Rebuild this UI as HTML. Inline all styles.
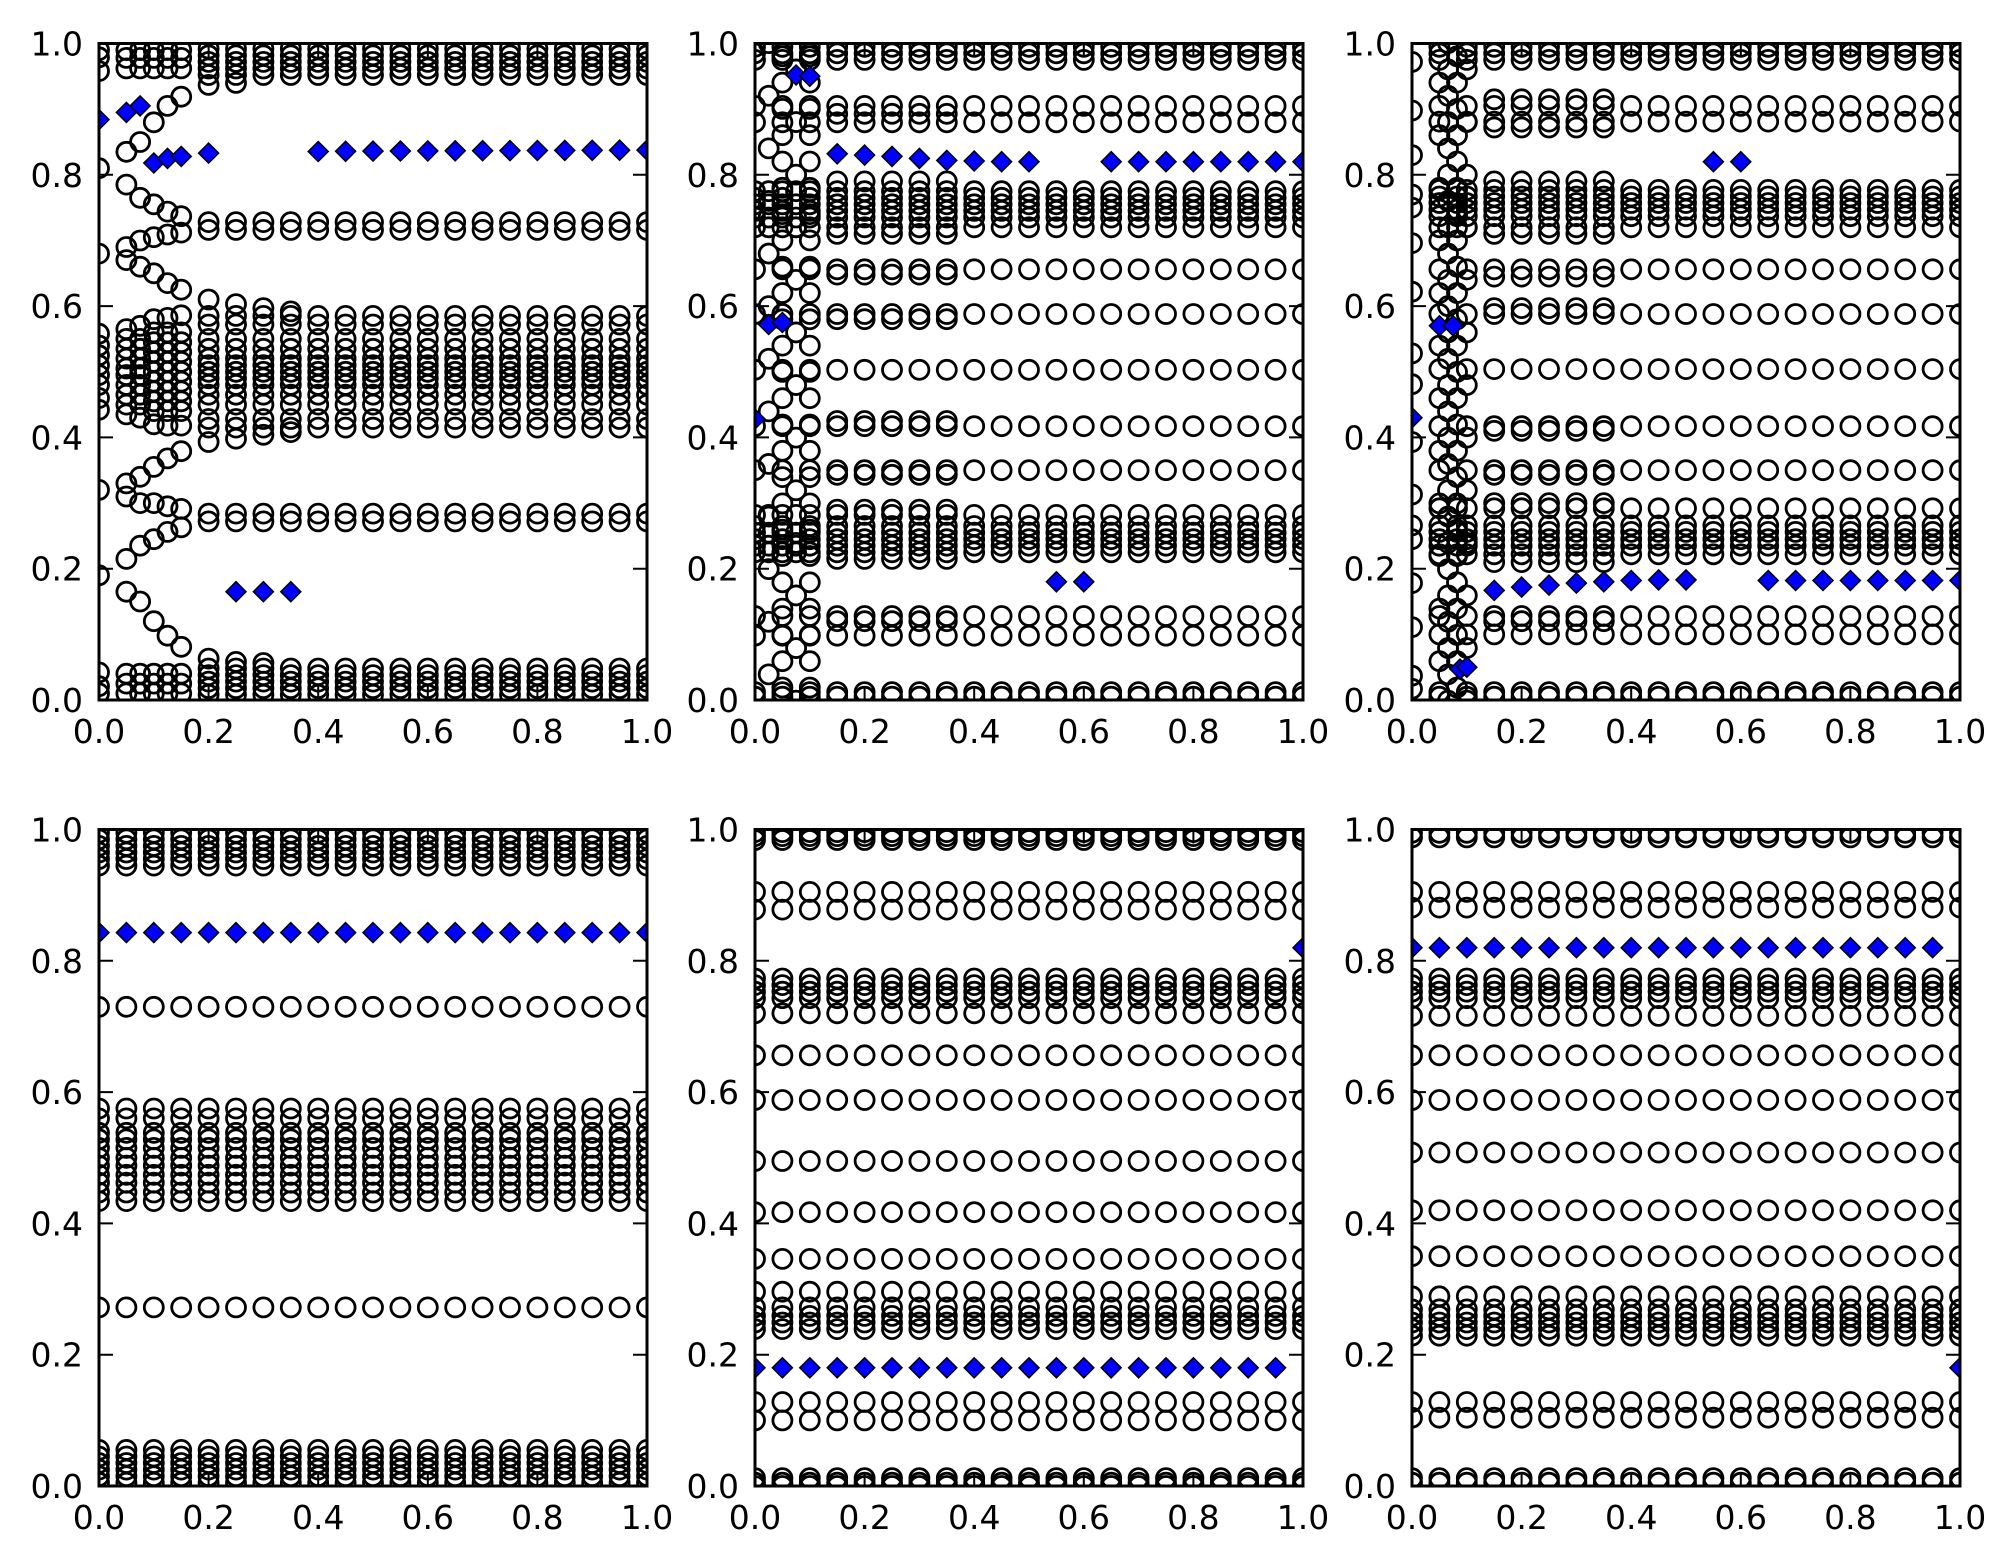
<!DOCTYPE html>
<html><head><meta charset="utf-8">
<style>
html,body{margin:0;padding:0;background:#fff;}
svg{display:block;}
circle{fill:none;stroke:#000;stroke-width:2.8;}
.dm{fill:#0000ff;stroke:#000;stroke-width:1.5;}
text{font-family:"DejaVu Sans","Liberation Sans",sans-serif;font-size:33px;fill:#000;}
.ya{text-anchor:end;}
.xa{text-anchor:middle;}
</style></head>
<body>
<svg width="2011" height="1565" viewBox="0 0 2011 1565" xmlns="http://www.w3.org/2000/svg" xmlns:xlink="http://www.w3.org/1999/xlink">
<rect width="2011" height="1565" fill="#fff"/>
<defs>
<clipPath id="cp"><rect x="0" y="43.5" width="548" height="656.5"/></clipPath>
<circle id="c" r="9.5"/>
<g id="r21"><use href="#c" x="0"/><use href="#c" x="27.4"/><use href="#c" x="54.8"/><use href="#c" x="82.2"/><use href="#c" x="109.6"/><use href="#c" x="137"/><use href="#c" x="164.4"/><use href="#c" x="191.8"/><use href="#c" x="219.2"/><use href="#c" x="246.6"/><use href="#c" x="274"/><use href="#c" x="301.4"/><use href="#c" x="328.8"/><use href="#c" x="356.2"/><use href="#c" x="383.6"/><use href="#c" x="411"/><use href="#c" x="438.4"/><use href="#c" x="465.8"/><use href="#c" x="493.2"/><use href="#c" x="520.6"/><use href="#c" x="548"/></g>
<g id="r20"><use href="#c" x="27.4"/><use href="#c" x="54.8"/><use href="#c" x="82.2"/><use href="#c" x="109.6"/><use href="#c" x="137"/><use href="#c" x="164.4"/><use href="#c" x="191.8"/><use href="#c" x="219.2"/><use href="#c" x="246.6"/><use href="#c" x="274"/><use href="#c" x="301.4"/><use href="#c" x="328.8"/><use href="#c" x="356.2"/><use href="#c" x="383.6"/><use href="#c" x="411"/><use href="#c" x="438.4"/><use href="#c" x="465.8"/><use href="#c" x="493.2"/><use href="#c" x="520.6"/><use href="#c" x="548"/></g>
<g id="r17"><use href="#c" x="109.6"/><use href="#c" x="137"/><use href="#c" x="164.4"/><use href="#c" x="191.8"/><use href="#c" x="219.2"/><use href="#c" x="246.6"/><use href="#c" x="274"/><use href="#c" x="301.4"/><use href="#c" x="328.8"/><use href="#c" x="356.2"/><use href="#c" x="383.6"/><use href="#c" x="411"/><use href="#c" x="438.4"/><use href="#c" x="465.8"/><use href="#c" x="493.2"/><use href="#c" x="520.6"/><use href="#c" x="548"/></g>
<g id="e5"><use href="#c" x="82.2"/><use href="#c" x="109.6"/><use href="#c" x="137"/><use href="#c" x="164.4"/><use href="#c" x="191.8"/></g>
<g id="lc"><use href="#c" x="13.7"/><use href="#c" x="41.1"/></g>
<g id="zz2"><use href="#c" y="30"/><use href="#c" y="82.6"/><use href="#c" y="135.2"/><use href="#c" y="187.8"/><use href="#c" y="240.4"/><use href="#c" y="293"/><use href="#c" y="345.6"/><use href="#c" y="398.2"/><use href="#c" y="450.8"/><use href="#c" y="503.4"/><use href="#c" y="556"/><use href="#c" y="608.6"/><use href="#c" y="661.2"/><use href="#c" y="713.8"/></g>
<polygon id="d" class="dm" points="0,-10 10,0 0,10 -10,0"/>
<g id="d20"><use href="#d" x="0"/><use href="#d" x="27.4"/><use href="#d" x="54.8"/><use href="#d" x="82.2"/><use href="#d" x="109.6"/><use href="#d" x="137"/><use href="#d" x="164.4"/><use href="#d" x="191.8"/><use href="#d" x="219.2"/><use href="#d" x="246.6"/><use href="#d" x="274"/><use href="#d" x="301.4"/><use href="#d" x="328.8"/><use href="#d" x="356.2"/><use href="#d" x="383.6"/><use href="#d" x="411"/><use href="#d" x="438.4"/><use href="#d" x="465.8"/><use href="#d" x="493.2"/><use href="#d" x="520.6"/></g>
<g id="frame">
<rect x="0" y="43.5" width="548" height="656.5" fill="none" stroke="#000" stroke-width="3"/>
<path d="M0 568.7h14M0 437.4h14M0 306.1h14M0 174.8h14M548 568.7h-14M548 437.4h-14M548 306.1h-14M548 174.8h-14M109.6 700v-14M219.2 700v-14M328.8 700v-14M438.4 700v-14M109.6 43.5v14M219.2 43.5v14M328.8 43.5v14M438.4 43.5v14" stroke="#000" stroke-width="2" fill="none"/>
</g>
</defs>

<!-- Panel 1 -->
<g transform="translate(99,0)">
<g clip-path="url(#cp)">
<use href="#r17" y="48.7"/><use href="#r17" y="55.3"/><use href="#r17" y="61.9"/><use href="#r17" y="68.5"/><use href="#r17" y="75"/>
<use href="#r17" y="222.1"/><use href="#r17" y="229.9"/>
<use href="#r17" y="315.9"/><use href="#r17" y="324.5"/><use href="#r17" y="338.9"/><use href="#r17" y="348.8"/><use href="#r17" y="358.6"/><use href="#r17" y="365.2"/><use href="#r17" y="371.8"/><use href="#r17" y="378.3"/><use href="#r17" y="384.9"/><use href="#r17" y="394.7"/><use href="#r17" y="404.6"/><use href="#r17" y="419"/><use href="#r17" y="427.6"/>
<use href="#r17" y="513.6"/><use href="#r17" y="521.4"/>
<use href="#r17" y="668.5"/><use href="#r17" y="675.1"/><use href="#r17" y="681.6"/><use href="#r17" y="688.2"/><use href="#r17" y="694.7"/>
<g transform="translate(109.6,0)"><use href="#c" y="84.9"/><use href="#c" y="299.5"/><use href="#c" y="442"/><use href="#c" y="658.6"/></g>
<g transform="translate(137,0)"><use href="#c" y="82.9"/><use href="#c" y="304.1"/><use href="#c" y="438.7"/><use href="#c" y="661.9"/></g>
<g transform="translate(164.4,0)"><use href="#c" y="308.1"/><use href="#c" y="434.8"/><use href="#c" y="663"/></g>
<g transform="translate(191.8,0)"><use href="#c" y="311.4"/><use href="#c" y="432.1"/></g>
<g><use href="#c" y="50.1"/><use href="#c" y="57.3"/><use href="#c" y="71.1"/><use href="#c" y="168.2"/><use href="#c" y="253.6"/><use href="#c" y="333.7"/><use href="#c" y="345.5"/><use href="#c" y="355.3"/><use href="#c" y="365.2"/><use href="#c" y="375"/><use href="#c" y="384.9"/><use href="#c" y="398"/><use href="#c" y="409.8"/><use href="#c" y="489.9"/><use href="#c" y="575.3"/><use href="#c" y="672.4"/><use href="#c" y="686.2"/><use href="#c" y="693.4"/></g>
<g transform="translate(27.4,0)"><use href="#c" y="50.1"/><use href="#c" y="57.9"/><use href="#c" y="68.4"/><use href="#c" y="151.8"/><use href="#c" y="184.6"/><use href="#c" y="247"/><use href="#c" y="260.1"/><use href="#c" y="329.1"/><use href="#c" y="338.9"/><use href="#c" y="348.8"/><use href="#c" y="358.6"/><use href="#c" y="368.5"/><use href="#c" y="375"/><use href="#c" y="384.9"/><use href="#c" y="394.7"/><use href="#c" y="404.6"/><use href="#c" y="414.4"/><use href="#c" y="483.4"/><use href="#c" y="496.5"/><use href="#c" y="558.9"/><use href="#c" y="591.7"/><use href="#c" y="673.7"/><use href="#c" y="683.6"/><use href="#c" y="693.4"/></g>
<g transform="translate(41.1,0)"><use href="#c" y="50.1"/><use href="#c" y="57.9"/><use href="#c" y="68.4"/><use href="#c" y="142"/><use href="#c" y="197.8"/><use href="#c" y="240.5"/><use href="#c" y="266.7"/><use href="#c" y="325.8"/><use href="#c" y="338.9"/><use href="#c" y="348.8"/><use href="#c" y="358.6"/><use href="#c" y="368.5"/><use href="#c" y="375"/><use href="#c" y="384.9"/><use href="#c" y="394.7"/><use href="#c" y="404.6"/><use href="#c" y="417.7"/><use href="#c" y="476.8"/><use href="#c" y="503.1"/><use href="#c" y="545.7"/><use href="#c" y="601.5"/><use href="#c" y="673.7"/><use href="#c" y="683.6"/><use href="#c" y="693.4"/></g>
<g transform="translate(54.8,0)"><use href="#c" y="50.1"/><use href="#c" y="57.9"/><use href="#c" y="68.4"/><use href="#c" y="122.3"/><use href="#c" y="204.3"/><use href="#c" y="237.2"/><use href="#c" y="273.3"/><use href="#c" y="319.2"/><use href="#c" y="332.4"/><use href="#c" y="342.2"/><use href="#c" y="352.1"/><use href="#c" y="361.9"/><use href="#c" y="371.8"/><use href="#c" y="381.6"/><use href="#c" y="391.4"/><use href="#c" y="401.3"/><use href="#c" y="411.1"/><use href="#c" y="424.3"/><use href="#c" y="466.9"/><use href="#c" y="503.1"/><use href="#c" y="539.2"/><use href="#c" y="621.2"/><use href="#c" y="673.7"/><use href="#c" y="683.6"/><use href="#c" y="693.4"/></g>
<g transform="translate(68.5,0)"><use href="#c" y="50.1"/><use href="#c" y="57.9"/><use href="#c" y="68.4"/><use href="#c" y="105.9"/><use href="#c" y="211.6"/><use href="#c" y="234.5"/><use href="#c" y="283.1"/><use href="#c" y="317.9"/><use href="#c" y="332.4"/><use href="#c" y="342.2"/><use href="#c" y="352.1"/><use href="#c" y="361.9"/><use href="#c" y="371.8"/><use href="#c" y="381.6"/><use href="#c" y="391.4"/><use href="#c" y="401.3"/><use href="#c" y="411.1"/><use href="#c" y="425.6"/><use href="#c" y="458.4"/><use href="#c" y="506.3"/><use href="#c" y="531.9"/><use href="#c" y="635.7"/><use href="#c" y="673.7"/><use href="#c" y="683.6"/><use href="#c" y="693.4"/></g>
<g transform="translate(82.2,0)"><use href="#c" y="50.1"/><use href="#c" y="57.9"/><use href="#c" y="68.4"/><use href="#c" y="96.7"/><use href="#c" y="216.2"/><use href="#c" y="232.6"/><use href="#c" y="289.7"/><use href="#c" y="315.3"/><use href="#c" y="332.4"/><use href="#c" y="342.2"/><use href="#c" y="352.1"/><use href="#c" y="361.9"/><use href="#c" y="371.8"/><use href="#c" y="381.6"/><use href="#c" y="391.4"/><use href="#c" y="401.3"/><use href="#c" y="411.1"/><use href="#c" y="425.6"/><use href="#c" y="451.2"/><use href="#c" y="508.9"/><use href="#c" y="527.3"/><use href="#c" y="646.8"/><use href="#c" y="673.7"/><use href="#c" y="683.6"/><use href="#c" y="693.4"/></g>
<use href="#d" x="0" y="119.6"/><use href="#d" x="27.4" y="112.4"/><use href="#d" x="41.1" y="105.9"/><use href="#d" x="54.8" y="163"/><use href="#d" x="68.5" y="158.4"/><use href="#d" x="82.2" y="156.4"/><use href="#d" x="109.6" y="153.1"/>
<use href="#d" x="219.2" y="151.5"/><use href="#d" x="246.6" y="151.3"/><use href="#d" x="274" y="151.1"/><use href="#d" x="301.4" y="151"/><use href="#d" x="328.8" y="150.9"/><use href="#d" x="356.2" y="150.8"/><use href="#d" x="383.6" y="150.7"/><use href="#d" x="411" y="150.6"/><use href="#d" x="438.4" y="150.5"/><use href="#d" x="465.8" y="150.4"/><use href="#d" x="493.2" y="150.3"/><use href="#d" x="520.6" y="150.2"/><use href="#d" x="548" y="150.1"/>
<use href="#d" x="137" y="591.7"/><use href="#d" x="164.4" y="591.7"/><use href="#d" x="191.8" y="591.7"/>
</g>
<use href="#frame"/>
<text class="ya" x="-16" y="712">0.0</text><text class="ya" x="-16" y="580.7">0.2</text><text class="ya" x="-16" y="449.4">0.4</text><text class="ya" x="-16" y="318.1">0.6</text><text class="ya" x="-16" y="186.8">0.8</text><text class="ya" x="-16" y="55.5">1.0</text>
<text class="xa" x="0" y="743">0.0</text><text class="xa" x="109.6" y="743">0.2</text><text class="xa" x="219.2" y="743">0.4</text><text class="xa" x="328.8" y="743">0.6</text><text class="xa" x="438.4" y="743">0.8</text><text class="xa" x="548" y="743">1.0</text>
</g>

<!-- Panel 2 -->
<g transform="translate(755,0)">
<g clip-path="url(#cp)">
<use href="#r21" y="46.8"/><use href="#r21" y="53.3"/><use href="#r21" y="59.9"/>
<use href="#r21" y="105.9"/><use href="#r21" y="122.3"/>
<use href="#r21" y="191.2"/><use href="#r21" y="197.8"/><use href="#r21" y="204.3"/><use href="#r21" y="210.9"/><use href="#r21" y="217.5"/><use href="#r21" y="227.3"/>
<use href="#r21" y="269.3"/><use href="#r21" y="314"/><use href="#r21" y="369.8"/><use href="#r21" y="426.2"/><use href="#r21" y="470.2"/>
<use href="#r21" y="514.9"/><use href="#r21" y="526"/><use href="#r21" y="532.6"/><use href="#r21" y="539.2"/><use href="#r21" y="545.7"/><use href="#r21" y="552.3"/>
<use href="#r21" y="616"/><use href="#r21" y="635.7"/><use href="#r21" y="692.1"/><use href="#r21" y="696.7"/>
<use href="#e5" y="113.8"/><use href="#e5" y="181.4"/><use href="#e5" y="233.9"/><use href="#e5" y="274.6"/><use href="#e5" y="319.2"/><use href="#e5" y="421"/><use href="#e5" y="474.8"/><use href="#e5" y="509.6"/><use href="#e5" y="558.9"/><use href="#e5" y="621.2"/>
<use href="#lc" y="191.2"/><use href="#lc" y="204.3"/><use href="#lc" y="217.5"/><use href="#lc" y="227.3"/><use href="#lc" y="514.9"/><use href="#lc" y="532.6"/><use href="#lc" y="545.7"/><use href="#lc" y="552.3"/>
<use href="#zz2" x="13.7" y="13.15"/><use href="#zz2" x="27.4" y="0"/><use href="#zz2" x="27.4" y="26.3"/><use href="#zz2" x="41.1" y="39.45"/><use href="#zz2" x="54.8" y="0"/><use href="#zz2" x="54.8" y="26.3"/>
<use href="#d" x="41.1" y="75"/><use href="#d" x="54.8" y="76.3"/>
<use href="#d" x="82.2" y="153.8"/><use href="#d" x="109.6" y="155.1"/><use href="#d" x="137" y="156.4"/><use href="#d" x="164.4" y="158.4"/><use href="#d" x="191.8" y="160.4"/><use href="#d" x="219.2" y="161"/><use href="#d" x="246.6" y="161.7"/><use href="#d" x="274" y="161.7"/>
<use href="#d" x="356.2" y="161.7"/><use href="#d" x="383.6" y="161.7"/><use href="#d" x="411" y="161.7"/><use href="#d" x="438.4" y="161.7"/><use href="#d" x="465.8" y="161.7"/><use href="#d" x="493.2" y="161.7"/><use href="#d" x="520.6" y="161.7"/><use href="#d" x="548" y="161.7"/>
<use href="#d" x="13.7" y="324.5"/><use href="#d" x="27.4" y="322.5"/><use href="#d" x="0" y="419"/>
<use href="#d" x="301.4" y="581.8"/><use href="#d" x="328.8" y="581.8"/>
</g>
<use href="#frame"/>
<text class="ya" x="-16" y="712">0.0</text><text class="ya" x="-16" y="580.7">0.2</text><text class="ya" x="-16" y="449.4">0.4</text><text class="ya" x="-16" y="318.1">0.6</text><text class="ya" x="-16" y="186.8">0.8</text><text class="ya" x="-16" y="55.5">1.0</text>
<text class="xa" x="0" y="743">0.0</text><text class="xa" x="109.6" y="743">0.2</text><text class="xa" x="219.2" y="743">0.4</text><text class="xa" x="328.8" y="743">0.6</text><text class="xa" x="438.4" y="743">0.8</text><text class="xa" x="548" y="743">1.0</text>
</g>

<!-- Panel 3 -->
<g transform="translate(1412,0)">
<g clip-path="url(#cp)">
<use href="#r20" y="46.8"/><use href="#r20" y="53.3"/><use href="#r20" y="59.9"/>
<use href="#r20" y="105.9"/><use href="#r20" y="121.6"/>
<use href="#r20" y="189.9"/><use href="#r20" y="196.5"/><use href="#r20" y="203"/><use href="#r20" y="209.6"/><use href="#r20" y="216.2"/><use href="#r20" y="227.3"/>
<use href="#r20" y="269.3"/><use href="#r20" y="314"/><use href="#r20" y="369.1"/><use href="#r20" y="426.2"/><use href="#r20" y="470.2"/>
<use href="#r20" y="508.3"/><use href="#r20" y="525.4"/><use href="#r20" y="531.9"/><use href="#r20" y="539.2"/><use href="#r20" y="545.7"/><use href="#r20" y="554.3"/>
<use href="#r20" y="616"/><use href="#r20" y="634.4"/><use href="#r20" y="692.1"/><use href="#r20" y="696.7"/>
<use href="#e5" y="99.3"/><use href="#e5" y="127.5"/><use href="#e5" y="181.4"/><use href="#e5" y="233.9"/><use href="#e5" y="276.6"/><use href="#e5" y="308.1"/><use href="#e5" y="430.8"/><use href="#e5" y="474.8"/><use href="#e5" y="503.1"/><use href="#e5" y="562.1"/><use href="#e5" y="621.2"/>
<g><use href="#c" y="61.9"/><use href="#c" y="110.5"/><use href="#c" y="155.1"/><use href="#c" y="194.5"/><use href="#c" y="207.6"/><use href="#c" y="243.1"/><use href="#c" y="291.7"/><use href="#c" y="353.4"/><use href="#c" y="384.2"/><use href="#c" y="442"/><use href="#c" y="494.5"/><use href="#c" y="525.4"/><use href="#c" y="539.2"/><use href="#c" y="583.1"/><use href="#c" y="627.1"/><use href="#c" y="675.7"/><use href="#c" y="688.8"/></g>
<g transform="translate(45,0)"><use href="#c" y="189.9"/><use href="#c" y="196.5"/><use href="#c" y="203"/><use href="#c" y="209.6"/><use href="#c" y="216.2"/><use href="#c" y="227.3"/><use href="#c" y="508.3"/><use href="#c" y="525.4"/><use href="#c" y="531.9"/><use href="#c" y="539.2"/><use href="#c" y="545.7"/><use href="#c" y="554.3"/></g>
<use href="#zz2" x="27.4" y="0"/><use href="#zz2" x="36" y="13.15"/><use href="#zz2" x="45" y="26.3"/><use href="#zz2" x="54.8" y="39.45"/><use href="#zz2" x="45" y="0"/><use href="#zz2" x="36" y="39.45"/>
<use href="#d" x="301.4" y="161.7"/><use href="#d" x="328.8" y="161.7"/>
<use href="#d" x="27.4" y="325.8"/><use href="#d" x="41.1" y="325.8"/><use href="#d" x="0" y="417.7"/>
<use href="#d" x="82.2" y="590.4"/><use href="#d" x="109.6" y="587.1"/><use href="#d" x="137" y="585.1"/><use href="#d" x="164.4" y="583.1"/><use href="#d" x="191.8" y="581.8"/><use href="#d" x="219.2" y="580.5"/><use href="#d" x="246.6" y="579.9"/><use href="#d" x="274" y="579.9"/>
<use href="#d" x="356.2" y="580.5"/><use href="#d" x="383.6" y="580.5"/><use href="#d" x="411" y="580.5"/><use href="#d" x="438.4" y="580.5"/><use href="#d" x="465.8" y="580.5"/><use href="#d" x="493.2" y="580.5"/><use href="#d" x="520.6" y="580.5"/><use href="#d" x="548" y="580.5"/>
<use href="#d" x="48" y="669.1"/><use href="#d" x="54.8" y="667.2"/>
</g>
<use href="#frame"/>
<text class="ya" x="-16" y="712">0.0</text><text class="ya" x="-16" y="580.7">0.2</text><text class="ya" x="-16" y="449.4">0.4</text><text class="ya" x="-16" y="318.1">0.6</text><text class="ya" x="-16" y="186.8">0.8</text><text class="ya" x="-16" y="55.5">1.0</text>
<text class="xa" x="0" y="743">0.0</text><text class="xa" x="109.6" y="743">0.2</text><text class="xa" x="219.2" y="743">0.4</text><text class="xa" x="328.8" y="743">0.6</text><text class="xa" x="438.4" y="743">0.8</text><text class="xa" x="548" y="743">1.0</text>
</g>

<!-- Panel 4 -->
<g transform="translate(99,786)">
<g clip-path="url(#cp)">
<use href="#r21" y="46.8"/><use href="#r21" y="53.3"/><use href="#r21" y="59.9"/><use href="#r21" y="66.5"/><use href="#r21" y="73"/><use href="#r21" y="79.6"/>
<use href="#r21" y="220.8"/>
<use href="#r21" y="322.5"/><use href="#r21" y="332.4"/><use href="#r21" y="346.8"/><use href="#r21" y="353.4"/><use href="#r21" y="361.9"/><use href="#r21" y="371.8"/><use href="#r21" y="379.6"/><use href="#r21" y="388.8"/><use href="#r21" y="396.7"/><use href="#r21" y="406.5"/><use href="#r21" y="415.1"/>
<use href="#r21" y="521.4"/>
<use href="#r21" y="663.9"/><use href="#r21" y="670.5"/><use href="#r21" y="677"/><use href="#r21" y="683.6"/><use href="#r21" y="690.2"/><use href="#r21" y="696.7"/>
<use href="#d20" y="146.6"/><use href="#d" x="548" y="146.6"/>
</g>
<use href="#frame"/>
<text class="ya" x="-16" y="712">0.0</text><text class="ya" x="-16" y="580.7">0.2</text><text class="ya" x="-16" y="449.4">0.4</text><text class="ya" x="-16" y="318.1">0.6</text><text class="ya" x="-16" y="186.8">0.8</text><text class="ya" x="-16" y="55.5">1.0</text>
<text class="xa" x="0" y="743">0.0</text><text class="xa" x="109.6" y="743">0.2</text><text class="xa" x="219.2" y="743">0.4</text><text class="xa" x="328.8" y="743">0.6</text><text class="xa" x="438.4" y="743">0.8</text><text class="xa" x="548" y="743">1.0</text>
</g>

<!-- Panel 5 -->
<g transform="translate(755,786)">
<g clip-path="url(#cp)">
<use href="#r21" y="46.1"/><use href="#r21" y="50.1"/><use href="#r21" y="54"/>
<use href="#r21" y="105.9"/><use href="#r21" y="123.6"/>
<use href="#r21" y="192.5"/><use href="#r21" y="199.1"/><use href="#r21" y="205.7"/><use href="#r21" y="212.2"/><use href="#r21" y="227.3"/>
<use href="#r21" y="269.3"/><use href="#r21" y="314"/><use href="#r21" y="375"/><use href="#r21" y="426.2"/><use href="#r21" y="472.9"/>
<use href="#r21" y="505.7"/><use href="#r21" y="521.4"/><use href="#r21" y="529.9"/><use href="#r21" y="536.5"/><use href="#r21" y="543.1"/>
<use href="#r21" y="616"/><use href="#r21" y="634.4"/><use href="#r21" y="692.1"/><use href="#r21" y="696.7"/><use href="#r21" y="700"/>
<use href="#d20" y="581.8"/><use href="#d" x="548" y="161.7"/>
</g>
<use href="#frame"/>
<text class="ya" x="-16" y="712">0.0</text><text class="ya" x="-16" y="580.7">0.2</text><text class="ya" x="-16" y="449.4">0.4</text><text class="ya" x="-16" y="318.1">0.6</text><text class="ya" x="-16" y="186.8">0.8</text><text class="ya" x="-16" y="55.5">1.0</text>
<text class="xa" x="0" y="743">0.0</text><text class="xa" x="109.6" y="743">0.2</text><text class="xa" x="219.2" y="743">0.4</text><text class="xa" x="328.8" y="743">0.6</text><text class="xa" x="438.4" y="743">0.8</text><text class="xa" x="548" y="743">1.0</text>
</g>

<!-- Panel 6 -->
<g transform="translate(1412,786)">
<g clip-path="url(#cp)">
<use href="#r21" y="46.8"/><use href="#r21" y="51.4"/>
<use href="#r21" y="105.9"/><use href="#r21" y="121.6"/>
<use href="#r21" y="192.5"/><use href="#r21" y="199.1"/><use href="#r21" y="205.7"/><use href="#r21" y="212.2"/><use href="#r21" y="229.9"/>
<use href="#r21" y="269.3"/><use href="#r21" y="314"/><use href="#r21" y="366.5"/><use href="#r21" y="424.3"/><use href="#r21" y="470.2"/>
<use href="#r21" y="510.3"/><use href="#r21" y="523.4"/><use href="#r21" y="529.9"/><use href="#r21" y="536.5"/><use href="#r21" y="543.1"/><use href="#r21" y="549.7"/>
<use href="#r21" y="616"/><use href="#r21" y="631.7"/><use href="#r21" y="692.1"/><use href="#r21" y="696.7"/>
<use href="#d20" y="161.7"/><use href="#d" x="548" y="581.8"/>
</g>
<use href="#frame"/>
<text class="ya" x="-16" y="712">0.0</text><text class="ya" x="-16" y="580.7">0.2</text><text class="ya" x="-16" y="449.4">0.4</text><text class="ya" x="-16" y="318.1">0.6</text><text class="ya" x="-16" y="186.8">0.8</text><text class="ya" x="-16" y="55.5">1.0</text>
<text class="xa" x="0" y="743">0.0</text><text class="xa" x="109.6" y="743">0.2</text><text class="xa" x="219.2" y="743">0.4</text><text class="xa" x="328.8" y="743">0.6</text><text class="xa" x="438.4" y="743">0.8</text><text class="xa" x="548" y="743">1.0</text>
</g>
</svg>
</body></html>
